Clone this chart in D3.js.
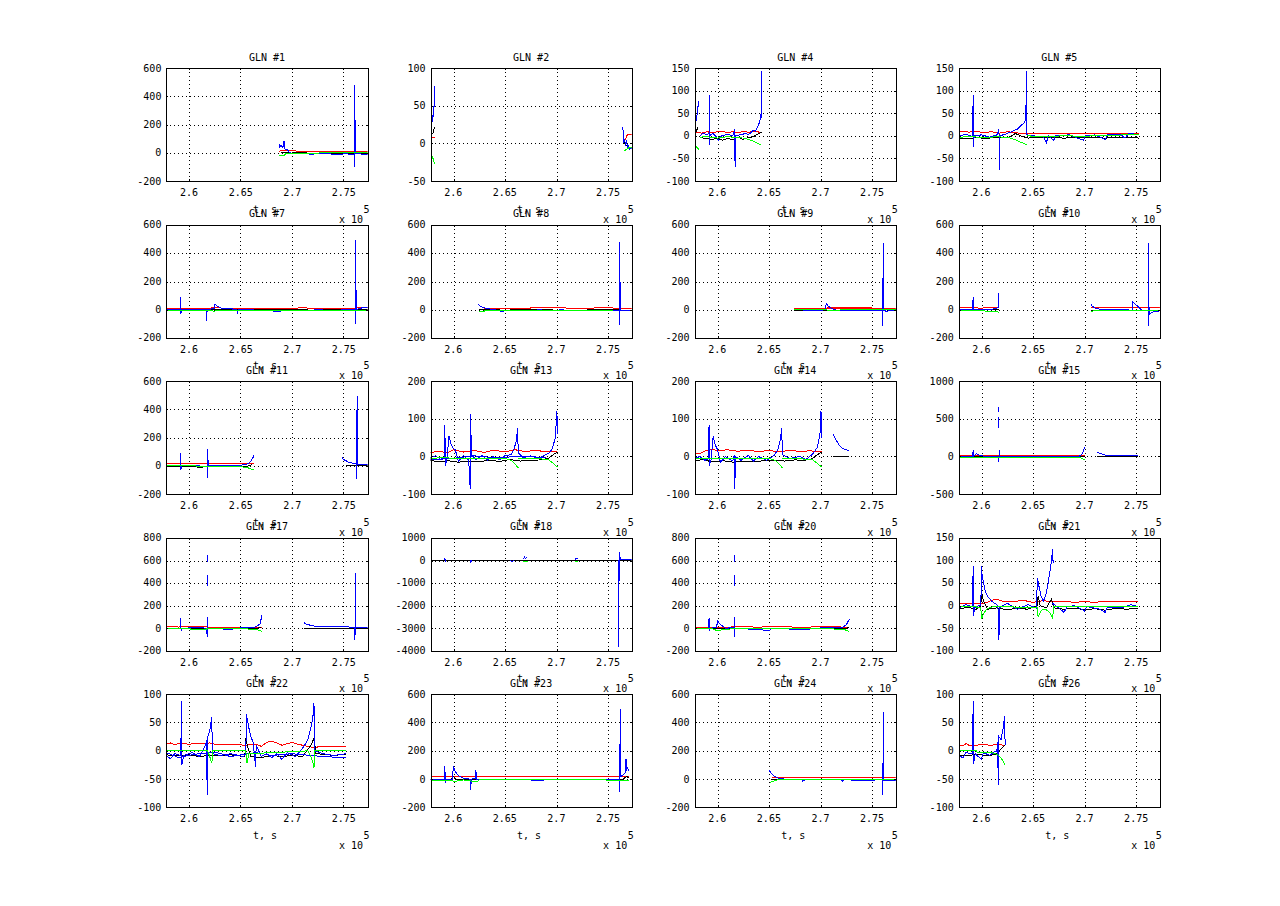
<!DOCTYPE html>
<html>
<head>
<meta charset="UTF-8">
<script src="https://cdn.jsdelivr.net/npm/d3@7"></script>
<style>
  body { margin: 0; background: #fff; }
  svg text { font-family: "DejaVu Sans Mono", monospace; font-size: 10px; fill: #000; }
  .box { fill: none; stroke: #000; stroke-width: 1; shape-rendering: crispEdges; }
  .grid { stroke: #000; stroke-width: 1; stroke-dasharray: 1,3; shape-rendering: crispEdges; }
  .tick { stroke: #000; stroke-width: 1; shape-rendering: crispEdges; }
  .trace { fill: none; stroke-width: 1; shape-rendering: crispEdges; }
</style>
</head>
<body>
<svg id="fig" width="1280" height="906"></svg>
<script>
// time in ks (x 10^5 s shown on axis), values per panel

const g1Red = [[268.7,12],[269.5,14],[271,11],[273,12],[275,11],[277.3,12]];
const g1Black = [[268.9,0],[270,-2],[271,0],[272,-4],[273,-2],[274,-5],[275,-3],[276,-5],[277.3,-4]];
const g1Blue = [[268.7,62],[268.8,40],[268.9,55],[269.0,45],[269.1,38],[269.2,83],[269.2,30],[269.35,25],[269.5,22],[269.7,5],[269.9,-5],[270.5,-8],[271.5,-6],[271.8,-16],[272.1,-8],[273,-6],[274.5,-12],[275,-8],[276.0,-10],[276.05,-102],[276.06,481],[276.1,-8],[277.3,-10]];
const g1Green = [[268.7,-20],[269.2,-18],[269.4,-5],[270,-3],[272,-3],[273.4,0],[277.3,2]];

const g2Red = [[257.8,8],[258.2,8],null,[276.5,2],[276.7,5],[276.8,10],[277.0,12],[277.3,12]];
const g2Black = [[258.0,12],[258.1,17],[258.2,22],null,[276.45,10],[276.6,0],[276.8,-3],[277.0,-5],[277.3,-5]];
const g2Blue = [[257.85,25],[257.9,30],[257.95,28],[258.0,37],[258.05,35],[258.1,50],[258.15,48],[258.2,76],null,[276.45,22],[276.5,0],[276.6,5],[276.7,-2],[276.8,2],[276.9,-5],[277.0,-3],[277.1,-8],[277.3,-6]];
const g2Green = [[257.85,-15],[258.0,-18],[258.1,-23],[258.2,-28],null,[276.6,-10],[276.8,-8],[277.0,-6],[277.3,-5]];

const g4Red = [[257.8,8],[258.5,6],[259,9],[259.5,7],[260,9],[260.5,10],[261,7],[261.5,9],[262,6],[262.5,10],[263,8],[263.5,9],[264.3,8]];
const g4Black = [[257.9,5],[258.0,12],[258.15,20],null,[258.3,-3],[258.8,-6],[259.5,-8],[260,-5],[260.5,-10],[261,-6],[261.5,-8],[262,-3],[262.5,-8],[263,-4],[263.5,-2],[264,5],[264.3,8]];
const g4Blue = [[257.85,25],[257.95,35],[258.05,48],[258.1,60],[258.2,76],null,[258.3,0],[258.6,5],[259.0,3],[259.2,5],[259.2,91],[259.25,-20],[259.3,2],[259.6,5],[260.0,-5],[260.1,-10],[260.4,0],[261.0,3],[261.5,0],[261.7,15],[261.72,-68],[261.8,0],[262.3,3],[262.8,5],[263.0,2],[263.3,8],[263.5,12],[263.7,10],[263.9,20],[264.1,30],[264.25,50],[264.28,143],[264.3,40]];
const g4Green = [[257.85,-20],[258.0,-25],[258.2,-30],null,[258.3,-3],[259,-2],[260,-5],[261,-2],[262,-4],[262.5,-5],[263,-8],[263.5,-12],[264.2,-20]];

const g5Red = [[257.8,8],[258.3,10],[258.8,8],[259.5,10],[260.2,7],[261,9],[261.8,6],[262.5,9],[263.3,7],[264,5],[266,5],[268,4],[270,5],[272,5],[274,6],[275.3,6]];
const g5Black = [[257.8,-5],[258.5,-7],[259.5,-4],[260.5,-6],[261.5,-3],[262.5,-5],[263.3,5],[263.8,0],[264.5,-5],[266,-4],[268,-5],[270,-4],[272,-5],[274,-4],[275.3,-5]];
const g5Blue = [[257.8,0],[258.5,3],[259.15,-2],[259.2,90],[259.22,-25],[259.3,0],[260,2],[260.8,-3],[261.5,2],[261.7,15],[261.75,-75],[261.8,0],[262.5,5],[263.0,10],[263.5,15],[263.8,22],[264.1,28],[264.3,35],[264.38,143],[264.4,2],[265,0],[266.0,-2],[266.3,-15],[266.5,0],[267.0,-10],[267.2,0],[268.5,2],[269.9,-10],[270.1,0],[271,2],[272,-8],[272.2,2],[273.5,3],[273.9,-5],[274.3,5],[275.3,3]];
const g5Green = [[257.8,-3],[259,-2],[260.5,-4],[261.5,-2],[262.7,-4],[263.2,-8],[263.8,-14],[264.4,-20],null,[264.4,0],[266,-2],[268,0],[270,-1],[272,1],[274,2],[275.3,2]];

const g7Red = [[257.8,8],[260,7],[262.5,10],[265,8],[267,9],[269,8],[271,10],[273,8],[275,9],[277.3,10]];
const g7Black = [[257.8,-3],[260,-5],[263,-2],[266,-4],[269,-3],[272,-5],[275,-3],[277.3,-4]];
const g7Blue = [[257.8,0],[259.15,0],[259.18,90],[259.2,-30],[259.3,0],[261.65,0],[261.7,-80],[261.75,0],[262.45,5],[262.5,35],[262.7,25],[263,10],[264.6,0],[264.7,-25],[264.8,0],[266.4,-5],[266.5,-12],[266.7,-5],[268.8,-15],[269,-5],[272,-10],[272.2,-3],[274.5,-8],[275,0],[276.08,0],[276.1,-105],[276.12,490],[276.2,0],[277,15],[277.3,15]];
const g7Green = [[257.8,-5],[260,-8],[262.5,-12],[263,-5],[266,-8],[269,-6],[272,-8],[275,-5],[277.3,-6]];

const g8Red = [[263,5],[265,6],[267.4,5],[267.5,10],[270,10],[272,9],[275,10],[277.3,8]];
const g8Black = [[262.5,-3],[265,-5],[268,-3],[271,-6],[274,-4],[277.3,-5]];
const g8Blue = [[262.45,35],[262.6,25],[262.9,12],[263.3,5],[264,-3],[264.8,-15],[265.2,-5],[268,-10],[268.2,-3],[270,-10],[270.3,-4],[273,-8],[275,-10],[276.08,-5],[276.1,-110],[276.12,480],[276.2,-5],[277.3,-5]];
const g8Green = [[262.5,-15],[263,-12],[264,-5],[266,-8],[268,-5],[270,-7],[273,-5],[275.5,-6]];

const g9Red = [[267.4,5],[270.5,8],[273,8],[275,9],[277.3,8],null,[270.6,15],[272,14],[273.5,15],[275,14]];
const g9Black = [[267.4,-5],[269,-8],[271,-8],[273,-10],[275,-8],[275.5,-3],[277.3,-3]];
const g9Blue = [[267.4,-3],[268.5,-5],[270,-10],[270.5,0],[270.55,45],[270.7,25],[271,10],[271.5,-5],[273,-8],[274.5,-5],[276.03,-5],[276.05,-115],[276.07,470],[276.1,-5],[276.4,-15],[276.8,-5],[277.3,-10]];
const g9Green = [[267.4,-3],[270.5,-3],[271,-10],[271.5,-5],[274,-3],[277.3,-3]];

const g10Red = [[257.8,12],[258.5,10],[259.5,12],[260,5],[260.3,12],[261.7,12],null,[270.6,12],[273,12],[275,12],[277.3,12]];
const g10Black = [[257.8,-3],[261.7,-3],null,[270.6,-5],[274,-5],[277.3,-5]];
const g10Blue = [[257.8,0],[259.15,0],[259.2,85],[259.22,-10],[259.3,0],[260,-3],[261,0],[261.55,10],[261.62,20],[261.67,115],[261.7,10],null,[270.6,40],[270.7,25],[271,10],[271.5,0],[273,-3],[274.6,-5],[274.65,55],[274.8,45],[275,30],[275.2,20],[275.5,-5],[276.15,-5],[276.17,-115],[276.2,470],[276.25,-40],[276.5,-20],[277.3,-10]];
const g10Green = [[257.8,-10],[259,-10],[260.5,-12],[261.3,-14],[261.7,-20],null,[270.6,-15],[271,-8],[274,-8],[277.3,-8]];

const g11Red = [[257.8,19],[260,20],[262,19],[264,20],[266.3,20]];
const g11Black = [[257.8,-5],[259,-3],[261,-8],[263,-5],[265,-5],[265.8,0],[266.1,10],null,[275.2,0],[277.3,0]];
const g11Blue = [[257.8,2],[259.15,0],[259.18,95],[259.2,-25],[259.3,3],[261,0],[261.75,-5],[261.78,-85],[261.8,120],[261.85,5],[263,3],[264.5,0],[265.5,10],[265.8,20],[266.0,35],[266.2,60],[266.3,80],null,[274.8,60],[275.0,45],[275.5,25],[276.2,15],[276.25,-90],[276.28,495],[276.3,12],[277.3,10]];
const g11Green = [[257.8,5],[259,3],[260.5,0],[262,-5],[264,-5],[265.5,-8],[265.9,-18],[266.3,-30]];

const g13Red = [[257.8,10],[258.5,14],[259.5,10],[260,18],[261,12],[262,16],[263,11],[264,17],[265,12],[266,18],[267,13],[268,17],[269,12],[270.1,14]];
const g13Black = [[257.8,-10],[258.5,-14],[259.5,-11],[260.5,-15],[261.5,-12],[262.5,-14],[263.5,-10],[264.5,-13],[265.5,-8],[266.5,-12],[267.5,-10],[268.5,-9],[269.2,-5],[269.7,5],[270.1,12]];
const g13Blue = [[257.8,-3],[258.3,2],[258.8,-8],[259.15,-5],[259.2,85],[259.22,-25],[259.4,-5],[259.6,55],[259.75,35],[260,22],[260.2,18],[260.5,-12],[261,2],[261.5,-10],[261.65,-85],[261.7,113],[261.75,5],[262.2,-8],[262.8,3],[263.3,-10],[263.8,0],[264.5,-8],[265,2],[265.6,5],[265.9,20],[266.1,40],[266.25,75],[266.3,10],[266.8,-3],[267.5,2],[268.2,-5],[268.8,3],[269.3,10],[269.6,20],[269.9,50],[270.05,122],[270.1,60],null,[257.8,-8],[260,-5],[262,2],[264,-3],[266.5,0],[269,-2]];
const g13Green = [[257.8,-5],[259,-3],[261,-6],[263,-4],[265,-5],[265.6,-10],[266,-20],[266.3,-30],null,[266.3,-5],[268,-5],[269.2,-8],[269.7,-18],[270.1,-28]];

const g14Red = [[257.8,10],[258.3,8],[258.8,15],[259.5,20],[260,15],[261,18],[262,14],[263,17],[264,13],[265,16],[266,13],[267,16],[268,14],[269,15],[270.1,13]];
const g14Black = [[257.8,-12],[258.5,-8],[259.5,-14],[260.5,-11],[261.5,-15],[262.5,-12],[263.5,-14],[264.5,-11],[265.5,-10],[266.5,-12],[267.5,-9],[268.5,-10],[269.2,-6],[269.7,5],[270.1,12],null,[271.2,0],[272.8,0]];
const g14Blue = [[257.8,-5],[258.3,0],[258.8,-10],[259.15,-5],[259.2,85],[259.22,-25],[259.4,-8],[259.6,55],[259.8,30],[260,20],[260.3,-15],[260.8,0],[261.5,-12],[261.65,5],[261.7,-85],[261.75,0],[262.3,-10],[263,3],[263.5,-12],[264,0],[264.8,-10],[265.5,3],[265.9,20],[266.1,45],[266.25,75],[266.3,5],[267,-5],[268,0],[268.6,-8],[269.3,8],[269.7,25],[269.95,60],[270.05,120],[270.1,50],null,[271.2,60],[271.5,45],[271.8,30],[272.1,22],[272.4,18],[272.8,16]];
const g14Green = [[257.8,-5],[259,-6],[261,-4],[263,-6],[265,-5],[265.6,-10],[266,-20],[266.3,-30],null,[266.3,-5],[268,-6],[269.2,-8],[269.7,-18],[270.1,-28]];

const g15Red = [[257.8,15],[262,15],[266,15],[270,15]];
const g15Black = [[257.8,0],[270,0],null,[271.2,0],[275.2,0]];
const g15Blue = [[257.8,0],[259.15,0],[259.2,85],[259.25,0],[259.5,40],[259.8,20],[260.2,5],[261.65,5],[261.7,-70],[261.72,90],null,[261.7,380],[261.7,520],null,[261.7,590],[261.7,660],null,[261.75,5],[264,0],[267,5],[269.5,5],[269.8,40],[270.0,120],null,[271.2,60],[271.5,40],[272,20],[273,10],[274,8],[275.2,8]];
const g15Green = [[257.8,-10],[263,-10],[269.5,-10],[270,-40]];

const g17Red = [[257.8,10],[258.5,15],[259,10],[259.5,18],[260.2,12],[261,18],[261.8,10],[263,10],[265,10],[267.1,10]];
const g17Black = [[257.8,-5],[260,-3],[262,-6],[264,-5],[266,-4],[266.6,0],[267.0,10],null,[271.1,0],[277.3,0]];
const g17Blue = [[257.8,0],[259.15,0],[259.2,90],[259.22,-25],[259.3,0],[261,5],[261.7,0],[261.75,-75],[261.75,100],null,[261.75,370],[261.75,470],null,[261.75,590],[261.75,650],null,[261.8,0],[263,-5],[264.2,-15],[264.3,0],[266.2,5],[266.4,10],[266.7,25],[266.9,40],[267.05,120],null,[271.1,50],[271.4,35],[272,20],[273,15],[274,12],[276.05,10],[276.08,-100],[276.1,490],[276.15,10],[277.3,8]];
const g17Green = [[257.8,-5],[260,-5],[260.6,-15],[261.3,-15],[261.8,-5],[264,-5],[266.4,-8],[266.8,-20],[267.1,-30]];

const g18Red = [];
const g18Black = [[257.8,0],[277.3,0]];
const g18Blue = [[259.15,0],[259.2,100],[259.22,-80],[259.3,0],null,[261.65,0],[261.7,-100],[261.75,0],null,[265.5,0],[265.7,-60],[265.9,0],null,[266.8,50],[266.9,150],[267.0,80],[267.1,150],null,[271.8,50],[272.0,100],[272.1,80],null,[276.03,0],[276.05,-3850],[276.08,350],[276.2,60],[276.5,50],[277.3,40]];
const g18Green = [[266.8,-30],[267.2,-60],null,[271.8,-40],[272.1,-70]];

const g20Red = [[257.8,10],[260,8],[262,12],[264,10],[266,13],[268,9],[270,12],[272.8,10]];
const g20Black = [[257.8,-5],[260,-3],[263,-6],[266,-4],[269,-6],[272,-4],[272.5,0],[272.8,5]];
const g20Blue = [[257.8,0],[259.15,0],[259.2,90],[259.22,-25],[259.3,0],[259.95,5],[260.0,70],[260.2,40],[260.5,20],[260.8,0],[261.65,5],[261.7,-80],[261.7,100],null,[261.7,370],[261.7,470],null,[261.7,590],[261.7,650],null,[261.75,0],[265.1,-20],[265.2,0],[268.9,-15],[269.0,0],[271.9,5],[272.2,10],[272.5,30],[272.8,80]];
const g20Green = [[257.8,-5],[259.5,-5],[260.1,-25],[260.6,-8],[263,-5],[266,-5],[269,-5],[272.2,-8],[272.8,-30]];

const g21Red = [[257.8,5],[259,4],[260.5,6],[261,12],[261.5,14],[262,10],[263,8],[264,12],[265,7],[266,11],[267,8],[268,10],[269,7],[270,9],[271,7],[272,10],[273,8],[274,9],[275.2,8]];
const g21Black = [[257.8,-7],[258.8,-4],[259.5,-8],[259.95,0],[260.0,30],[260.2,10],[260.6,-8],[261.5,-5],[262.5,-9],[263.5,-6],[264.5,-8],[265.4,0],[265.5,22],[265.7,0],[266.3,-5],[266.8,15],[267,-5],[268,-8],[269,-6],[270,-9],[271,-7],[272,-10],[273,-6],[274,-8],[275.2,-6]];
const g21Blue = [[257.8,-5],[258.5,2],[259.15,-3],[259.2,88],[259.22,-22],[259.4,-2],[259.95,0],[260.0,88],[260.05,70],[260.2,50],[260.4,30],[260.6,20],[261,10],[261.6,0],[261.7,-75],[261.75,-5],[262.5,5],[263.5,-8],[264.5,2],[265.3,-5],[265.45,60],[265.6,40],[265.8,20],[266.0,10],[266.2,20],[266.4,40],[266.6,70],[266.8,100],[266.9,125],[266.95,95],null,[266.9,5],[267.5,-5],[268,-15],[268.3,-3],[269,0],[270,-12],[270.2,-2],[271.5,-8],[272,-15],[272.2,-3],[273.5,-5],[274.5,2],[275.2,-2]];
const g21Green = [[257.8,-3],[259.5,-3],[259.95,-5],[260.0,-30],[260.2,-18],[260.5,-8],[261,-3],[263,-3],[265.4,-5],[265.5,-25],[265.8,-10],[266.2,-8],[266.6,-15],[266.9,-28],[267,-3],[269,-3],[271,-3],[273,-3],[275.2,-3]];

const g22Red = [[257.8,12],[258.2,14],[258.6,11],[259,13],[260,12],[261,13],[262,14],[262.5,12],[264,12],[265.5,10],[266.5,12],[267,8],[267.5,15],[268,17],[268.5,14],[269,10],[269.5,13],[270,15],[270.5,12],[271,10],[271.5,8],[272,6],[273,8],[274,7],[275.2,7]];
const g22Black = [[257.8,-7],[259,-9],[260,-7],[261,-10],[262,-8],[263,-9],[264,-7],[265.4,-10],[265.5,22],[265.7,5],[266,-10],[267,-12],[268,-8],[269,-10],[270,-8],[271,-10],[271.8,10],[272.1,22],[272.3,-5],[273,-6],[274,-8],[275.2,-6]];
const g22Blue = [[257.8,-8],[258.2,-14],[258.6,-5],[259.2,-8],[259.25,88],[259.28,-25],[259.5,-8],[260.3,-3],[261,-10],[261.6,10],[261.7,20],[261.75,-78],[261.8,25],[262.0,35],[262.2,60],[262.25,-5],[263,-8],[264,-5],[265.3,-10],[265.5,-5],[265.55,65],[265.8,40],[266.0,25],[266.2,15],[266.45,-28],[266.5,10],[267,-10],[267.5,-5],[268,-12],[268.5,-5],[269,-15],[269.5,-3],[270.3,-10],[270.8,0],[271.2,10],[271.5,20],[271.8,40],[272.0,60],[272.1,85],[272.2,0],[273,-5],[274,-8],[275.2,-5],null,[257.8,-3],[259,-12],[260.5,-6],[262.5,-2],[264,-10],[266.5,-3],[268,-8],[270,-5],[273,-10],[275.2,-12]];
const g22Green = [[257.8,0],[261.8,0],[262.0,-10],[262.2,-22],[262.3,0],[265.5,0],[265.6,-22],[265.8,-5],[271.5,0],[271.8,-10],[272.0,-20],[272.1,-30],[272.2,0],[275.2,0]];

const g23Red = [[257.8,17],[260,17],[260.5,20],[261.5,20],[262,17],[265,17],[268,18],[271,17],[274,17],[277,18]];
const g23Black = [[257.8,-5],[259.8,-5],[260.0,20],[260.3,-3],[263,-5],[266,-4],[269,-6],[272,-4],[275,-5],[276.5,0],[276.8,20],[277,10]];
const g23Blue = [[257.8,-5],[259.15,-3],[259.2,95],[259.22,-30],[259.3,-5],[259.95,0],[260.0,90],[260.2,55],[260.5,25],[261,5],[261.65,0],[261.7,-75],[261.75,0],[262.15,5],[262.2,65],[262.25,0],[264,-5],[266,0],[268,-8],[270,-3],[272,-6],[274,-2],[276.1,-3],[276.15,-90],[276.18,500],[276.25,20],[276.5,30],[276.7,50],[276.75,144],[276.8,60],[276.9,80],[277.0,55]];
const g23Green = [[257.8,-8],[259.5,-8],[260.2,-15],[261,-5],[262.3,-20],[262.5,-5],[265,-5],[268,-5],[271,-5],[274,-5],[276.3,-8],[277,-12]];

const g24Red = [[265.3,10],[267,10],[270,10],[273,10],[277.3,10]];
const g24Black = [[265.2,-2],[268,-3],[271,-4],[274,-3],[277.3,-3]];
const g24Blue = [[265.0,65],[265.2,45],[265.5,20],[266,5],[267,-3],[268.2,-5],[268.3,-15],[268.5,-3],[270,-5],[272,-5],[272.1,-15],[272.3,-5],[274,-8],[276.03,-5],[276.05,-110],[276.08,475],[276.1,-10],[276.5,-12],[277.3,-8]];
const g24Green = [[265.1,-24],[265.4,-15],[265.8,-5],[268,-6],[271,-5],[274,-6],[277.3,-5]];

const g26Red = [[257.8,10],[258.3,10],[258.5,13],[258.8,10],[259.5,10],[260.2,12],[260.8,10],[261.5,11],[262.3,10]];
const g26Black = [[257.8,-7],[258.5,-9],[259.5,-6],[260.5,-8],[261.2,-7],[261.5,-5],[262,5],[262.3,10]];
const g26Blue = [[257.8,-8],[258.2,-12],[258.5,-3],[259.15,-5],[259.2,88],[259.23,-24],[259.4,-5],[260.0,-15],[260.2,-3],[260.8,-8],[261.2,-2],[261.5,0],[261.55,15],[261.65,-60],[261.7,25],[261.9,20],[262.1,40],[262.25,62],[262.3,10]];
const g26Green = [[257.8,0],[259.5,0],[259.6,-3],[261,-3],[261.5,-6],[261.9,-12],[262.3,-25]];

const glnIds = [1, 2, 4, 5, 7, 8, 9, 10, 11, 13, 14, 15, 17, 18, 20, 21, 22, 23, 24, 26];

const yDomains = [
  [-200, 600], [-50, 100], [-100, 150], [-100, 150],
  [-200, 600], [-200, 600], [-200, 600], [-200, 600],
  [-200, 600], [-100, 200], [-100, 200], [-500, 1000],
  [-200, 800], [-4000, 1000], [-200, 800], [-100, 150],
  [-100, 100], [-200, 600], [-200, 600], [-100, 100]
];
const yTickSteps = [200, 50, 50, 50, 200, 200, 200, 200, 200, 100, 100, 500, 200, 1000, 200, 50, 50, 200, 200, 50];

const xDomain = [257.8, 277.3];
const xTicks = [260, 265, 270, 275];
const xTickLabels = ["2.6", "2.65", "2.7", "2.75"];

const traceColors = ["#ff0000", "#000000", "#0000ff", "#00ff00"];
const traceWidths = [1, 1, 1.6, 1];

const panelSeries = [
  [g1Red, g1Black, g1Blue, g1Green], [g2Red, g2Black, g2Blue, g2Green],
  [g4Red, g4Black, g4Blue, g4Green], [g5Red, g5Black, g5Blue, g5Green],
  [g7Red, g7Black, g7Blue, g7Green], [g8Red, g8Black, g8Blue, g8Green],
  [g9Red, g9Black, g9Blue, g9Green], [g10Red, g10Black, g10Blue, g10Green],
  [g11Red, g11Black, g11Blue, g11Green], [g13Red, g13Black, g13Blue, g13Green],
  [g14Red, g14Black, g14Blue, g14Green], [g15Red, g15Black, g15Blue, g15Green],
  [g17Red, g17Black, g17Blue, g17Green], [g18Red, g18Black, g18Blue, g18Green],
  [g20Red, g20Black, g20Blue, g20Green], [g21Red, g21Black, g21Blue, g21Green],
  [g22Red, g22Black, g22Blue, g22Green], [g23Red, g23Black, g23Blue, g23Green],
  [g24Red, g24Black, g24Blue, g24Green], [g26Red, g26Black, g26Blue, g26Green]
];

// subplot grid, 5 rows x 4 cols
const left0 = 166.4, colStep = 264.1, pw = 201.2;
const top0 = 68, rowStep = 156.6, ph = 113;
const tickLen = 2;

const svg = d3.select("#fig");

const x = d3.scaleLinear().domain(xDomain).range([0, pw]);

glnIds.forEach(function(id, i) {
  const row = Math.floor(i / 4), col = i % 4;
  const px = left0 + col * colStep, py = top0 + row * rowStep;
  const dom = yDomains[i];
  const y = d3.scaleLinear().domain(dom).range([ph, 0]);
  const yTicks = d3.range(dom[0], dom[1] + 1, yTickSteps[i]);

  const g = svg.append("g").attr("transform", "translate(" + px + "," + py + ")");

  g.append("clipPath").attr("id", "clip" + i)
    .append("rect").attr("width", pw).attr("height", ph);

  // dotted grid
  g.selectAll(".gx").data(xTicks).enter().append("line")
    .attr("class", "grid")
    .attr("x1", d => Math.round(x(d)) + 0.5).attr("x2", d => Math.round(x(d)) + 0.5)
    .attr("y1", 0).attr("y2", ph);
  g.selectAll(".gy").data(yTicks.filter(d => d > dom[0] && d < dom[1])).enter().append("line")
    .attr("class", "grid")
    .attr("x1", 0).attr("x2", pw)
    .attr("y1", d => Math.round(y(d)) + 0.5).attr("y2", d => Math.round(y(d)) + 0.5);

  // traces
  const line = d3.line()
    .defined(d => d !== null)
    .x(d => x(d[0]))
    .y(d => y(d[1]));

  const plot = g.append("g").attr("clip-path", "url(#clip" + i + ")");
  panelSeries[i].forEach(function(s, k) {
    if (!s.length) return;
    plot.append("path")
      .attr("class", "trace")
      .attr("d", line(s))
      .attr("stroke", traceColors[k])
      .attr("stroke-width", traceWidths[k]);
  });

  // box
  g.append("rect").attr("class", "box")
    .attr("x", 0.5).attr("y", 0.5).attr("width", pw).attr("height", ph);

  // inward ticks
  xTicks.forEach(function(t) {
    const xx = Math.round(x(t)) + 0.5;
    g.append("line").attr("class", "tick").attr("x1", xx).attr("x2", xx).attr("y1", ph).attr("y2", ph - tickLen);
    g.append("line").attr("class", "tick").attr("x1", xx).attr("x2", xx).attr("y1", 0).attr("y2", tickLen);
  });
  yTicks.forEach(function(t) {
    const yy = Math.round(y(t)) + 0.5;
    g.append("line").attr("class", "tick").attr("x1", 0).attr("x2", tickLen).attr("y1", yy).attr("y2", yy);
    g.append("line").attr("class", "tick").attr("x1", pw - tickLen).attr("x2", pw).attr("y1", yy).attr("y2", yy);
  });

  // tick labels
  g.selectAll(".xl").data(xTicks).enter().append("text")
    .attr("x", d => x(d)).attr("y", ph + 15)
    .attr("text-anchor", "middle")
    .text((d, j) => xTickLabels[j]);
  g.selectAll(".yl").data(yTicks).enter().append("text")
    .attr("x", -5).attr("y", d => y(d) + 3.5)
    .attr("text-anchor", "end")
    .text(d => String(d));

  // title, axis label, exponent
  g.append("text").attr("x", pw / 2).attr("y", -7.5)
    .attr("text-anchor", "middle").text("GLN #" + id);
  g.append("text").attr("x", pw / 2 - 2).attr("y", ph + 31.5)
    .attr("text-anchor", "middle").text("t, s");
  g.append("text").attr("x", pw - 4.5).attr("y", ph + 41.5)
    .attr("text-anchor", "end").text("x 10");
  g.append("text").attr("x", pw - 1).attr("y", ph + 31.5)
    .attr("text-anchor", "middle").text("5");
});
</script>
</body>
</html>
